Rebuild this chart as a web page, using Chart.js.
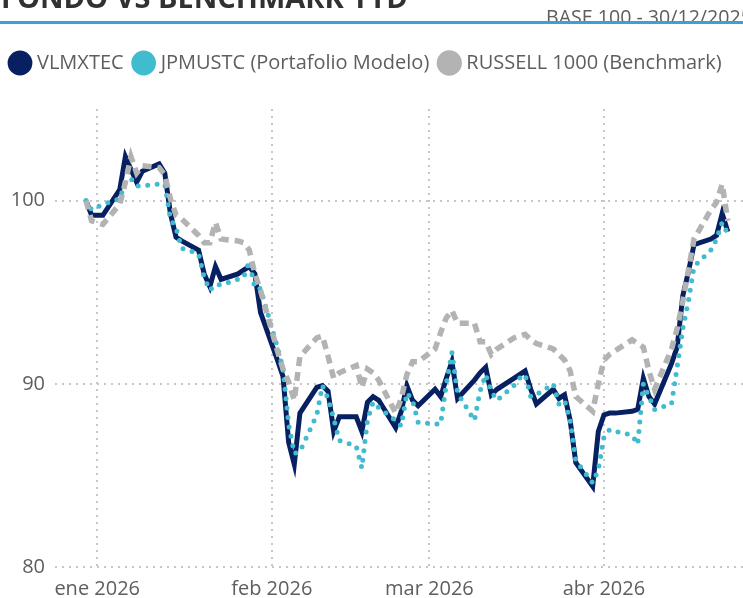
<!DOCTYPE html>
<html>
<head>
    <title>Fondo vs Benchmark YTD</title>
    <script src="https://cdn.jsdelivr.net/npm/chart.js"></script>
    <style>
        body { margin: 0; width: 743px; height: 598px; overflow: hidden; background: #fff; font-family: 'Open Sans', sans-serif; position: relative; }
        #title { position: absolute; left: 1px; top: -18px; font-size: 29px; line-height: 29px; font-weight: 700; color: #323130; white-space: nowrap; }
        #base { position: absolute; left: 546px; top: 7px; font-size: 19.6px; line-height: 20px; color: #605e5c; white-space: nowrap; }
        #rule { position: absolute; left: 0; top: 21px; width: 743px; height: 3px; background: #3c9fda; }
        #myChart { position: absolute; left: 0; top: 0; }
    </style>
</head>
<body>
    <canvas id="myChart" width="743" height="598"></canvas>
    <div id="title">FONDO VS BENCHMARK YTD</div>
    <div id="base">BASE 100 - 30/12/2025</div>
    <div id="rule"></div>
    <script>
        // Trading days, base 100 on 30/12/2025
        const dates = [
            '2025-12-30', '2025-12-31',
            '2026-01-02', '2026-01-05', '2026-01-06', '2026-01-07', '2026-01-08', '2026-01-09',
            '2026-01-12', '2026-01-13', '2026-01-14', '2026-01-15', '2026-01-16',
            '2026-01-19', '2026-01-20', '2026-01-21', '2026-01-22', '2026-01-23',
            '2026-01-26', '2026-01-27', '2026-01-28', '2026-01-29', '2026-01-30',
            '2026-02-02', '2026-02-03', '2026-02-04', '2026-02-05', '2026-02-06',
            '2026-02-09', '2026-02-10', '2026-02-11', '2026-02-12', '2026-02-13',
            '2026-02-16', '2026-02-17', '2026-02-18', '2026-02-19', '2026-02-20',
            '2026-02-23', '2026-02-24', '2026-02-25', '2026-02-26', '2026-02-27',
            '2026-03-02', '2026-03-03', '2026-03-04', '2026-03-05', '2026-03-06',
            '2026-03-09', '2026-03-10', '2026-03-11', '2026-03-12', '2026-03-13',
            '2026-03-16', '2026-03-17', '2026-03-18', '2026-03-19', '2026-03-20',
            '2026-03-23', '2026-03-24', '2026-03-25', '2026-03-26', '2026-03-27',
            '2026-03-30', '2026-03-31', '2026-04-01', '2026-04-02', '2026-04-03',
            '2026-04-06', '2026-04-07', '2026-04-08', '2026-04-09', '2026-04-10',
            '2026-04-13', '2026-04-14', '2026-04-15', '2026-04-16', '2026-04-17',
            '2026-04-20', '2026-04-21', '2026-04-22', '2026-04-23'
        ];

        const vlmxtec = [
            100.0, 99.2,
            99.2, 100.6, 102.4, 101.7, 101.0, 101.6,
            102.0, 101.5, 99.3, 98.0, 97.8,
            97.3, 96.0, 95.3, 96.4, 95.7,
            96.0, 96.2, 96.4, 96.0, 93.9,
            91.3, 90.4, 86.8, 85.6, 88.4,
            89.8, 89.9, 89.6, 87.4, 88.2,
            88.2, 87.4, 89.0, 89.3, 89.1,
            87.6, 88.5, 89.9, 89.1, 88.8,
            89.7, 89.3, 90.3, 91.2, 89.2,
            90.2, 90.6, 90.9, 89.4, 89.7,
            90.3, 90.5, 90.7, 89.7, 88.9,
            89.7, 89.2, 89.4, 88.0, 85.7,
            84.4, 87.4, 88.3, 88.4, 88.4,
            88.5, 88.6, 90.3, 89.3, 88.9,
            91.1, 92.0, 94.8, 96.1, 97.6,
            97.9, 98.1, 99.3, 98.3
        ];

        const jpmustc = [
            100.0, 99.5,
            99.8, 100.1, 101.0, 101.2, 100.8, 100.8,
            100.9, 100.9, 99.0, 98.5, 97.4,
            97.1, 95.8, 95.1, 95.4, 95.4,
            95.7, 95.8, 96.7, 95.2, 95.2,
            92.0, 90.8, 87.8, 86.2, 86.3,
            88.3, 89.9, 89.2, 88.1, 86.9,
            86.6, 85.4, 88.0, 89.0, 88.7,
            88.0, 87.7, 89.5, 89.1, 87.9,
            87.8, 87.8, 90.0, 91.7, 89.5,
            88.0, 89.6, 90.5, 89.6, 89.1,
            89.9, 90.3, 90.5, 89.3, 89.4,
            90.0, 88.9, 89.1, 88.0, 85.8,
            84.6, 85.3, 87.1, 87.5, 87.4,
            87.2, 86.7, 90.0, 89.3, 88.6,
            88.9, 90.9, 93.0, 94.5, 96.4,
            97.3, 97.9, 98.8, 98.2
        ];

        const russell1000 = [
            100.0, 98.9,
            98.7, 99.8, 101.0, 102.4, 101.5, 101.9,
            101.8, 101.4, 100.1, 99.2, 99.0,
            98.1, 97.7, 97.7, 98.8, 97.9,
            97.8, 97.7, 97.3, 96.0, 95.1,
            91.8, 90.8, 90.1, 89.1, 91.5,
            92.5, 92.6, 91.5, 90.3, 90.6,
            91.0, 89.8, 90.8, 90.6, 90.2,
            88.4, 89.2, 90.5, 91.2, 91.2,
            91.9, 92.8, 93.6, 94.0, 93.3,
            93.3, 92.3, 92.3, 91.6, 91.9,
            92.5, 92.6, 92.7, 92.4, 92.2,
            91.9, 91.6, 91.3, 90.7, 89.3,
            88.5, 90.0, 91.3, 91.6, 91.8,
            92.4, 92.2, 92.0, 90.7, 89.7,
            91.9, 93.0, 94.5, 96.2, 97.9,
            99.5, 99.9, 100.9, 98.9
        ];

        const monthStarts = ['2026-01-01', '2026-02-01', '2026-03-01', '2026-04-01'];
        const monthLabels = ['ene 2026', 'feb 2026', 'mar 2026', 'abr 2026'];
        const yTicks = [80, 90, 100];

        // days since 1 Jan 2026, used as the x value
        const dayOf = (s) => {
            const [y, m, d] = s.split('-').map(Number);
            return (Date.UTC(y, m - 1, d) - Date.UTC(2026, 0, 1)) / 86400000;
        };
        const toPoints = (values) => dates.map((d, i) => ({ x: dayOf(d), y: values[i] }));
        const monthDays = monthStarts.map(dayOf);

        const textColor = '#605e5c';
        const gridColor = '#c8c6c4';

        // push the plot area a bit further below the legend
        const legendGap = {
            id: 'legendGap',
            beforeInit(chart) {
                const fit = chart.legend.fit;
                chart.legend.fit = function () {
                    fit.call(this);
                    this.height += 26;
                };
            }
        };

        const ctx = document.getElementById('myChart').getContext('2d');
        new Chart(ctx, {
            type: 'line',
            data: {
                datasets: [{
                    label: 'VLMXTEC',
                    data: toPoints(vlmxtec),
                    borderColor: '#072062',
                    backgroundColor: '#072062',
                    borderWidth: 5,
                    order: 3
                }, {
                    label: 'JPMUSTC (Portafolio Modelo)',
                    data: toPoints(jpmustc),
                    borderColor: '#41bccf',
                    backgroundColor: '#41bccf',
                    borderWidth: 5,
                    borderDash: [0, 9.5],
                    borderCapStyle: 'round',
                    order: 2
                }, {
                    label: 'RUSSELL 1000 (Benchmark)',
                    data: toPoints(russell1000),
                    borderColor: '#b3b3b3',
                    backgroundColor: '#b3b3b3',
                    borderWidth: 5.5,
                    borderDash: [9, 6],
                    order: 1
                }]
            },
            options: {
                responsive: false,
                animation: false,
                layout: { padding: { top: 40, left: 0, right: 0, bottom: 0 } },
                elements: {
                    point: { radius: 0, borderWidth: 0, hoverRadius: 0 },
                    line: { tension: 0, fill: false }
                },
                plugins: {
                    tooltip: { enabled: false },
                    legend: {
                        position: 'top',
                        align: 'start',
                        reverse: true,
                        labels: {
                            usePointStyle: true,
                            pointStyle: 'circle',
                            boxWidth: 14,
                            boxHeight: 14,
                            padding: 13,
                            color: textColor,
                            font: { family: 'Open Sans', size: 20 }
                        }
                    }
                },
                scales: {
                    x: {
                        type: 'linear',
                        min: -7.5,
                        max: 114.7,
                        afterFit: (scale) => { scale.height = 31; },
                        afterBuildTicks: (scale) => {
                            scale.ticks = monthDays.map(v => ({ value: v }));
                        },
                        ticks: {
                            padding: 10,
                            maxRotation: 0,
                            autoSkip: false,
                            color: textColor,
                            font: { family: 'Open Sans', size: 20 },
                            callback: (value) => monthLabels[monthDays.indexOf(value)]
                        },
                        grid: { color: gridColor, lineWidth: 2, drawTicks: false },
                        border: { display: false, dash: [2, 5] }
                    },
                    y: {
                        min: 80,
                        max: 105,
                        afterFit: (scale) => { scale.width = 55; },
                        afterBuildTicks: (scale) => {
                            scale.ticks = yTicks.map(v => ({ value: v }));
                        },
                        ticks: {
                            padding: 10,
                            color: textColor,
                            font: { family: 'Open Sans', size: 20 }
                        },
                        grid: { color: gridColor, lineWidth: 2, drawTicks: false },
                        border: { display: false, dash: [2, 5] }
                    }
                }
            },
            plugins: [legendGap]
        });
    </script>
</body>
</html>
